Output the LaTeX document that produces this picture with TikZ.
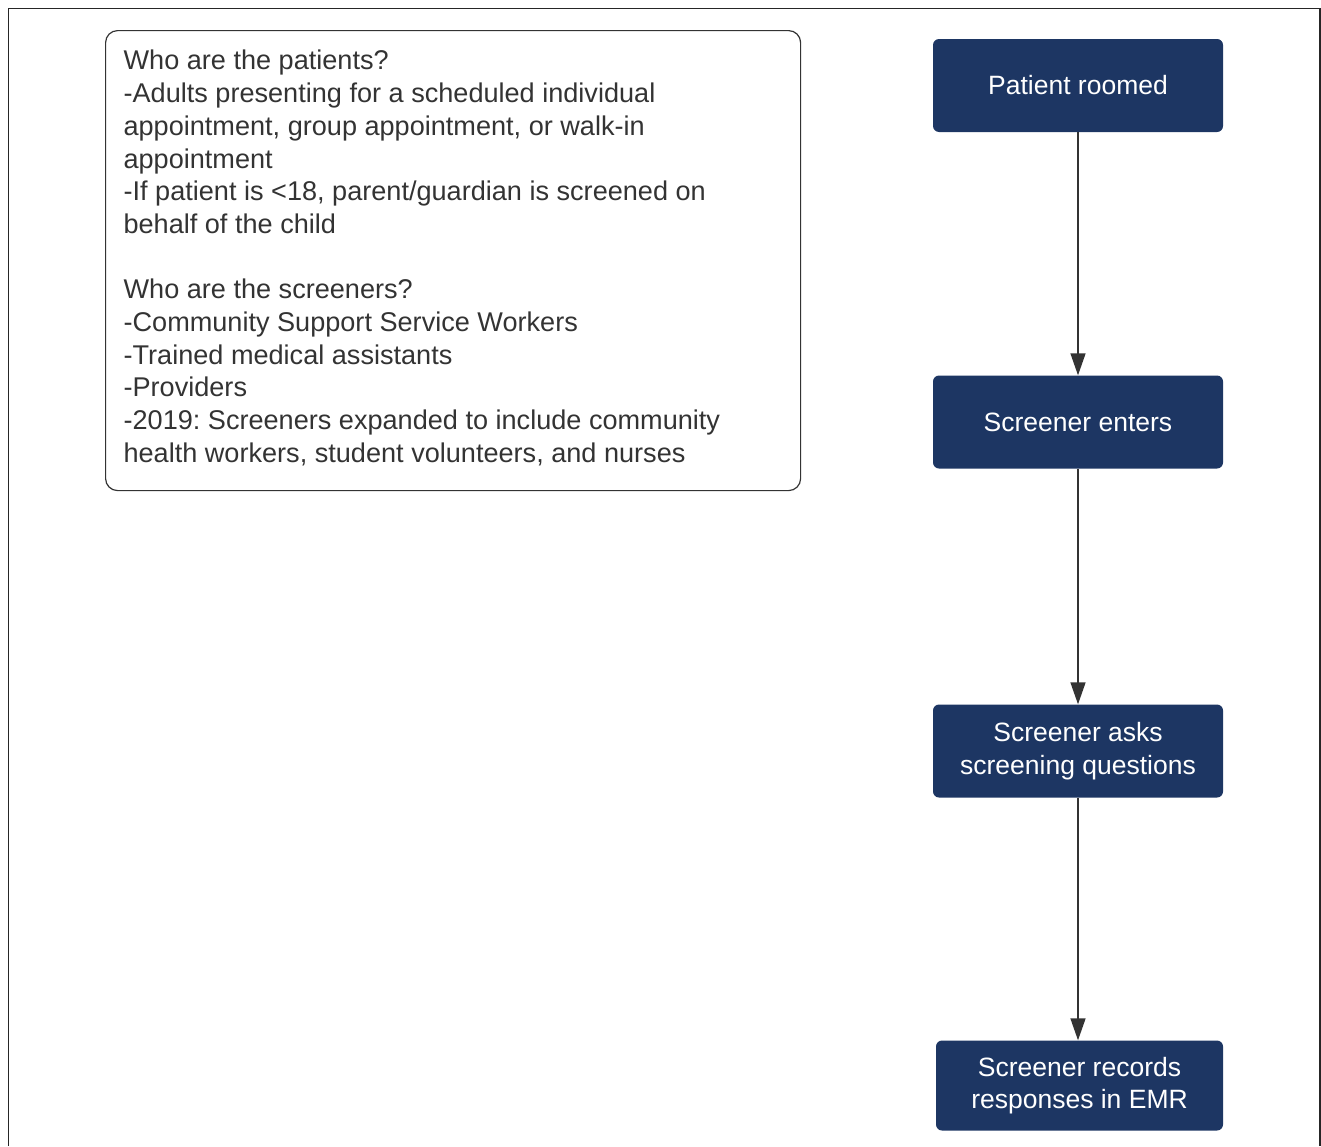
\documentclass[tikz,border=0pt]{standalone}
\usepackage{fontspec}
\setmainfont{Liberation Sans}
\usepackage{tikz}
\usepackage{xcolor}
\usetikzlibrary{arrows.meta}
\definecolor{navy}{RGB}{29,54,99}
\definecolor{ink}{RGB}{51,51,51}
\newcommand*{\StepWidth}{290}
\newcommand*{\StepHeight}{93}
\frenchspacing

\begin{document}
\begin{tikzpicture}[x=1pt,y=-1pt,
    stepbox/.style={fill=navy, rounded corners=6pt, text=white, align=center,
        minimum width=\StepWidth pt, minimum height=\StepHeight pt, inner sep=0pt,
        font=\fontsize{26.5}{32.7}\selectfont},
    flow/.style={draw=ink, line width=1.5pt, -{Triangle[length=22pt,width=15pt]}}]
    \useasboundingbox (0,0) rectangle (1321,1146);
    \draw[line width=1.5pt, draw=black!85] (8.5,1146) -- (8.5,8.5) -- (1320,8.5) -- (1320,1146);
    \node[draw=ink, line width=1.2pt, rounded corners=12pt, anchor=north west,
        minimum width=695pt, minimum height=460pt, inner sep=0pt, text=ink,
        font=\fontsize{27.1}{32.7}\selectfont] (info) at (105,30)
        {\begin{minipage}{659pt}\raggedright
        Who are the patients?\\
        -Adults presenting for a scheduled individual\\
        appointment, group appointment, or walk-in\\
        appointment\\
        -If patient is <18, parent/guardian is screened on\\
        behalf of the child\\
        \mbox{}\\
        Who are the screeners?\\
        -Community Support Service Workers\\
        -Trained medical assistants\\
        -Providers\\
        -2019: Screeners expanded to include community\\
        health workers, student volunteers, and nurses
        \vspace*{5pt}
        \end{minipage}};
    \node[stepbox] (roomed) at (1078,85.5) {Patient roomed};
    \node[stepbox] (enters) at (1078,422) {Screener enters};
    \node[stepbox] (asks) at (1078,751) {Screener asks\\screening questions};
    \node[stepbox, minimum width=287pt, minimum height=90pt] (records) at (1079.5,1085.5)
        {Screener records\\responses in EMR};
    \foreach \a/\b in {roomed/enters, enters/asks, asks/records}
        \draw[flow] (\a.south -| 1078,0) -- (\b.north -| 1078,0);
\end{tikzpicture}
\end{document}
